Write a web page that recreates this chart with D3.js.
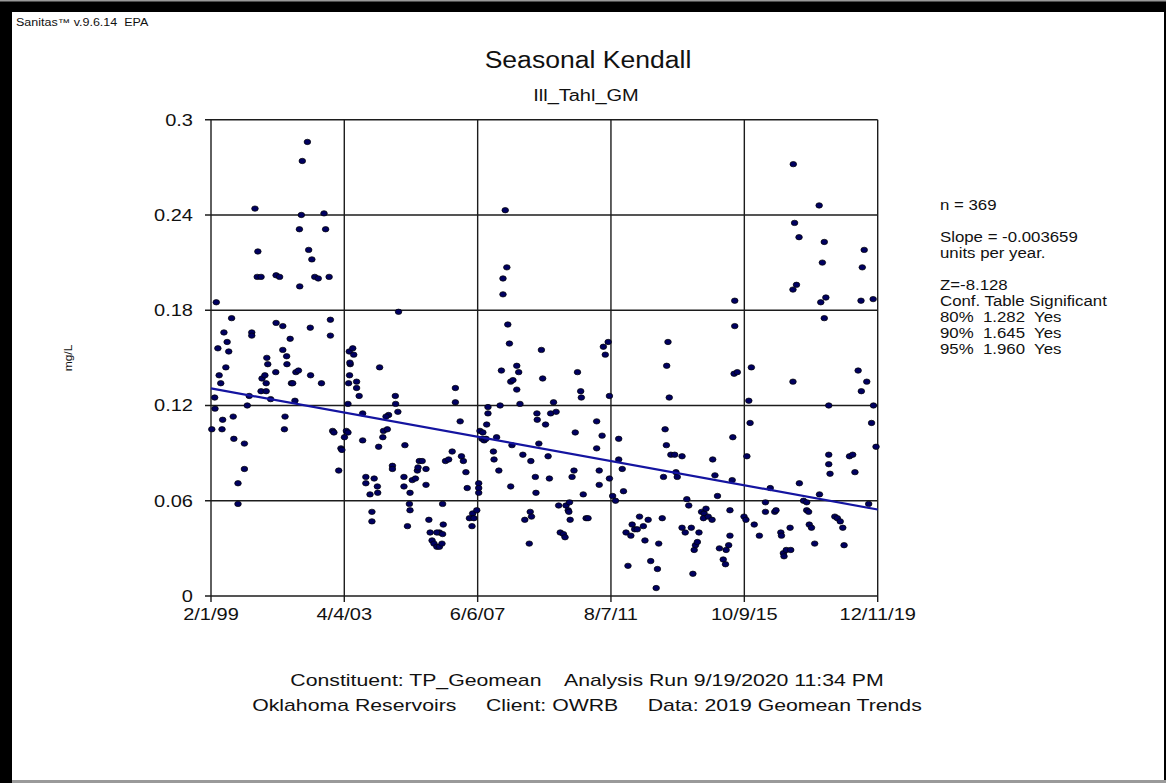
<!DOCTYPE html>
<html>
<head>
<meta charset="utf-8">
<script src="https://cdn.jsdelivr.net/npm/d3@7"></script>
<style>
body { margin: 0; background: #000; }
svg { display: block; font-family: "Liberation Sans", Arial, sans-serif; }
text { white-space: pre; fill: #111; }
</style>
</head>
<body>
<svg id="chart" width="1166" height="783"></svg>
<script>
// sample dates as decimal years, TP geomean in mg/L
var sampleYears = [
  1999.11, 1999.20, 1999.21, 1999.25, 1999.30, 1999.34, 1999.39, 1999.45, 1999.43, 1999.49,
  1999.55, 1999.59, 1999.64, 1999.73, 1999.78, 1999.80, 1999.93, 1999.93, 2000.13, 2000.13,
  2000.22, 2000.28, 2000.36, 2000.36, 2000.46, 2000.55, 2000.53, 2000.65, 2000.65, 2000.68,
  2000.77, 2000.81, 2000.81, 2000.83, 2000.86, 2000.95, 2001.11, 2001.12, 2001.23, 2001.12,
  2001.33, 2001.33, 2001.45, 2001.46, 2001.40, 2001.38, 2001.56, 2001.60, 2001.64, 2001.74,
  2001.82, 2001.71, 2001.85, 2001.86, 2001.91, 2001.94, 2002.10, 2002.14, 2002.19, 2002.20,
  2002.24, 2002.33, 2002.44, 2002.54, 2002.62, 2002.67, 2002.78, 2002.82, 2002.82, 2002.89,
  2002.93, 2003.08, 2003.15, 2003.18, 2003.26,
  2003.32, 2003.37, 2003.37, 2003.39, 2003.42, 2003.44, 2003.43, 2003.41, 2003.52, 2003.55,
  2003.64, 2003.64, 2003.72, 2003.83, 2003.83, 2003.93, 2003.93, 2004.06, 2004.12, 2004.12,
  2004.19, 2004.29, 2004.30, 2004.36, 2004.33, 2004.46, 2004.48, 2004.60, 2004.64, 2004.56,
  2004.76, 2004.76, 2004.85, 2004.86, 2004.93, 2004.95, 2005.15, 2005.12, 2005.12, 2005.31,
  2005.29, 2005.31, 2005.23, 2005.38, 2005.48, 2005.54, 2005.56, 2005.60, 2005.69, 2005.81,
  2005.81, 2005.90, 2005.94, 2006.00, 2006.06, 2006.15, 2006.23, 2006.31, 2006.23, 2006.15,
  2006.33, 2006.33, 2006.35, 2006.42, 2006.52, 2006.63, 2006.73, 2006.73, 2006.88, 2006.92,
  2006.98, 2007.06, 2007.10, 2007.17, 2007.25, 2007.27, 2007.31, 2007.40, 2007.46, 2007.46,
  2007.46,
  2007.50, 2007.59, 2007.56, 2007.63, 2007.69, 2007.71, 2007.75, 2007.75, 2007.92, 2007.94,
  2008.09, 2008.02, 2008.13, 2008.17, 2008.22, 2008.22, 2008.29, 2008.34, 2008.37, 2008.42,
  2008.46, 2008.53, 2008.50, 2008.46, 2008.65, 2008.71, 2008.65, 2008.75, 2008.84, 2008.90,
  2009.04, 2009.07, 2009.11, 2009.09, 2009.23, 2009.25, 2009.28, 2009.29, 2009.34, 2009.42,
  2009.46, 2009.55, 2009.63, 2009.67, 2009.71, 2009.80, 2009.88, 2009.96, 2010.01, 2010.11,
  2010.16, 2010.19, 2010.26, 2010.30, 2010.32, 2010.28, 2010.38, 2010.44, 2010.48, 2010.55,
  2010.65, 2010.67, 2010.73, 2010.82, 2010.88, 2011.15, 2011.15, 2011.23, 2011.23, 2011.32,
  2011.36, 2011.42, 2011.51, 2011.55, 2011.55, 2011.65, 2011.74,
  2011.84, 2011.84, 2011.95, 2011.99, 2012.07, 2012.13, 2012.22, 2012.26, 2012.34, 2012.42,
  2012.49, 2012.61, 2012.76, 2012.66, 2012.84, 2013.05, 2013.01, 2013.09, 2013.20, 2013.24,
  2013.29, 2013.33, 2013.34, 2013.38, 2013.42, 2013.47, 2013.59, 2013.63, 2013.67, 2013.82,
  2013.82, 2013.92, 2013.97, 2014.03, 2014.11, 2014.16, 2014.20, 2014.24, 2014.30, 2014.35,
  2014.43, 2014.51, 2014.57, 2014.49, 2014.64, 2014.76, 2014.78, 2014.85, 2014.93, 2014.99,
  2015.11, 2015.18, 2015.20, 2015.28, 2015.32, 2015.32, 2015.39, 2015.41, 2015.45, 2015.47,
  2015.47, 2015.55, 2015.76, 2015.82,
  2015.85, 2015.91, 2015.95, 2015.99, 2016.08, 2016.24, 2016.43, 2016.43, 2016.58, 2016.72,
  2016.76, 2016.91, 2016.93, 2016.99, 2017.01, 2017.08, 2017.22, 2017.20, 2017.29, 2017.30,
  2017.34, 2017.40, 2017.29, 2017.48, 2017.49, 2017.62, 2017.72, 2017.72, 2017.78, 2017.80,
  2017.87, 2017.97, 2018.12, 2018.11, 2018.21, 2018.27, 2018.32, 2018.16, 2018.27, 2018.41,
  2018.41, 2018.41, 2018.45, 2018.60, 2018.68, 2018.77, 2018.85, 2018.89, 2019.06, 2019.16,
  2019.23, 2019.33, 2019.43, 2019.60, 2019.42, 2019.52, 2019.46, 2019.66, 2019.75, 2019.81,
  2019.80, 2019.89
];
var tpValues = [
  0.105, 0.125, 0.118, 0.185, 0.156, 0.139, 0.134, 0.111, 0.105, 0.166,
  0.144, 0.160, 0.154, 0.175, 0.113, 0.099, 0.071, 0.058, 0.096, 0.080,
  0.120, 0.126, 0.166, 0.164, 0.244, 0.217, 0.201, 0.201, 0.129, 0.137,
  0.139, 0.134, 0.129, 0.150, 0.146, 0.124, 0.141, 0.202, 0.201, 0.172,
  0.170, 0.155, 0.151, 0.146, 0.113, 0.105, 0.162, 0.134, 0.134, 0.141,
  0.142, 0.123, 0.231, 0.195, 0.240, 0.274, 0.286, 0.218, 0.169, 0.139,
  0.212, 0.201, 0.200, 0.134, 0.241, 0.231, 0.201, 0.174, 0.164, 0.104,
  0.103, 0.079, 0.093, 0.092, 0.100,
  0.104, 0.103, 0.121, 0.134, 0.139, 0.146, 0.147, 0.154, 0.156, 0.152,
  0.135, 0.131, 0.126, 0.115, 0.098, 0.075, 0.071, 0.064, 0.053, 0.047,
  0.074, 0.069, 0.065, 0.144, 0.094, 0.100, 0.104, 0.105, 0.114, 0.113,
  0.082, 0.080, 0.126, 0.121, 0.116, 0.179, 0.095, 0.075, 0.069, 0.065,
  0.058, 0.054, 0.044, 0.073, 0.074, 0.079, 0.081, 0.085, 0.085, 0.080,
  0.070, 0.048, 0.040, 0.035, 0.033, 0.031, 0.031, 0.033, 0.040, 0.040,
  0.039, 0.058, 0.045, 0.085, 0.086, 0.091, 0.131, 0.122, 0.110, 0.088,
  0.085, 0.078, 0.068, 0.049, 0.044, 0.052, 0.049, 0.054, 0.071, 0.068,
  0.065,
  0.104, 0.103, 0.099, 0.098, 0.099, 0.108, 0.115, 0.119, 0.091, 0.086,
  0.079, 0.100, 0.120, 0.142, 0.200, 0.190, 0.243, 0.207, 0.171, 0.159,
  0.135, 0.136, 0.095, 0.069, 0.145, 0.141, 0.130, 0.121, 0.089, 0.048,
  0.033, 0.053, 0.050, 0.085, 0.075, 0.065, 0.115, 0.111, 0.096, 0.155,
  0.137, 0.108, 0.088, 0.074, 0.115, 0.122, 0.116, 0.057, 0.040, 0.039,
  0.037, 0.057, 0.054, 0.059, 0.048, 0.053, 0.075, 0.079, 0.103, 0.141,
  0.129, 0.125, 0.064, 0.049, 0.049, 0.110, 0.093, 0.079, 0.070, 0.101,
  0.157, 0.152, 0.160, 0.126, 0.074, 0.063, 0.060,
  0.099, 0.086, 0.080, 0.066, 0.040, 0.019, 0.038, 0.045, 0.042, 0.042,
  0.050, 0.044, 0.048, 0.035, 0.022, 0.017, 0.005, 0.033, 0.049, 0.075,
  0.105, 0.095, 0.145, 0.160, 0.125, 0.089, 0.089, 0.078, 0.075, 0.088,
  0.043, 0.040, 0.061, 0.057, 0.043, 0.014, 0.029, 0.032, 0.034, 0.040,
  0.053, 0.052, 0.055, 0.049, 0.050, 0.048, 0.086, 0.076, 0.063, 0.030,
  0.023, 0.020, 0.029, 0.032, 0.038, 0.054, 0.073, 0.100, 0.140, 0.186,
  0.170, 0.141, 0.050, 0.048,
  0.088, 0.123, 0.109, 0.144, 0.045, 0.038, 0.059, 0.053, 0.068, 0.053,
  0.054, 0.040, 0.038, 0.027, 0.025, 0.029, 0.029, 0.043, 0.135, 0.272,
  0.235, 0.196, 0.193, 0.226, 0.071, 0.060, 0.059, 0.054, 0.053, 0.045,
  0.043, 0.033, 0.064, 0.246, 0.210, 0.223, 0.188, 0.185, 0.175, 0.120,
  0.089, 0.083, 0.077, 0.050, 0.049, 0.047, 0.043, 0.032, 0.088, 0.089,
  0.078, 0.142, 0.129, 0.135, 0.186, 0.218, 0.207, 0.058, 0.109, 0.120,
  0.187, 0.094
];

var xTickLabels = ["2/1/99", "4/4/03", "6/6/07", "8/7/11", "10/9/15", "12/11/19"];
var yTicks = [0, 0.06, 0.12, 0.18, 0.24, 0.3];
var yTickLabels = ["0", "0.06", "0.12", "0.18", "0.24", "0.3"];

var trendStartValue = 0.1308;   // Sen line value at 2/1/99
var trendSlope = -0.003659;     // units per year

var statsLines = ["n = 369", "", "Slope = -0.003659", "units per year.", "",
  "Z=-8.128", "Conf. Table Significant", "80%  1.282  Yes", "90%  1.645  Yes", "95%  1.960  Yes"];
var footerLines = ["Constituent: TP_Geomean    Analysis Run 9/19/2020 11:34 PM",
  "Oklahoma Reservoirs     Client: OWRB     Data: 2019 Geomean Trends"];

var svg, x, y;
var parseTick = d3.timeParse("%m/%d/%y");
var formatTick = d3.timeFormat("%-m/%-d/%y");

// decimal year -> Date
var yearToDate = function(t) {
    var yr = Math.floor(t);
    var a = new Date(yr, 0, 1), b = new Date(yr + 1, 0, 1);
    return new Date(+a + (t - yr) * (b - a));
};

// the source render is stretched sideways, so widen glyphs a bit
var stretch = function(sel, f) {
    sel.each(function() {
	var w = this.getComputedTextLength();
	d3.select(this).attr("textLength", w * f).attr("lengthAdjust", "spacingAndGlyphs");
    });
    return sel;
};

var drawFrame = function() {
    svg.append("rect").attr("x", 0).attr("y", 0).attr("width", 1166).attr("height", 783).attr("fill", "#000");
    svg.append("rect").attr("x", 0).attr("y", 0).attr("width", 1166).attr("height", 1.5).attr("fill", "#999");
    svg.append("rect").attr("x", 12).attr("y", 12).attr("width", 1152).attr("height", 768).attr("fill", "#fff");
    svg.append("rect").attr("x", 12).attr("y", 780).attr("width", 1154).attr("height", 3).attr("fill", "#9a9a9a");

    stretch(svg.append("text").attr("x", 16).attr("y", 26).attr("font-size", 10)
	    .text("Sanitas\u2122 v.9.6.14  EPA"), 1.25);
};

var drawAxes = function() {
    var g = svg.append("g");
    var tickDates = xTickLabels.map(parseTick);

    // grid
    g.selectAll("line.hgrid").data(yTicks).enter().append("line")
	.attr("x1", x.range()[0] - 6).attr("x2", x.range()[1])
	.attr("y1", function(d) { return y(d); }).attr("y2", function(d) { return y(d); })
	.attr("stroke", "#1c1c1c").attr("stroke-width", 1.4);
    g.selectAll("line.vgrid").data(tickDates).enter().append("line")
	.attr("x1", function(d) { return x(d); }).attr("x2", function(d) { return x(d); })
	.attr("y1", y.range()[1]).attr("y2", y.range()[0] + 6)
	.attr("stroke", "#1c1c1c").attr("stroke-width", 1.4);

    stretch(g.selectAll("text.ylab").data(yTicks).enter().append("text")
	.attr("x", x.range()[0] - 18).attr("y", function(d) { return y(d) + 6; })
	.attr("text-anchor", "end").attr("font-size", 16)
	.text(function(d, i) { return yTickLabels[i]; }), 1.25);

    stretch(g.selectAll("text.xlab").data(tickDates).enter().append("text")
	.attr("x", function(d) { return x(d); }).attr("y", y.range()[0] + 24)
	.attr("text-anchor", "middle").attr("font-size", 16)
	.text(function(d) { return formatTick(d); }), 1.25);

    stretch(svg.append("text").attr("transform", "translate(72,358) rotate(-90)")
	.attr("text-anchor", "middle").attr("font-size", 10).text("mg/L"), 1.2);
};

var drawData = function() {
    var pts = sampleYears.map(function(t, i) { return [yearToDate(t), tpValues[i]]; });
    svg.append("g").selectAll("ellipse").data(pts).enter().append("ellipse")
	.attr("cx", function(d) { return x(d[0]); })
	.attr("cy", function(d) { return y(d[1]); })
	.attr("rx", 3.3).attr("ry", 2.7)
	.attr("fill", "#000060").attr("stroke", "#000").attr("stroke-width", 0.7);

    var d0 = x.domain()[0], d1 = x.domain()[1];
    var span = (d1 - d0) / (365.25 * 864e5);
    var trend = [[d0, trendStartValue], [d1, trendStartValue + trendSlope * span]];
    svg.append("path").datum(trend)
	.attr("d", d3.line().x(function(d) { return x(d[0]); }).y(function(d) { return y(d[1]); }))
	.attr("fill", "none").attr("stroke", "#1414a0").attr("stroke-width", 2.2);
};

var drawText = function() {
    stretch(svg.append("text").attr("x", 588).attr("y", 68).attr("text-anchor", "middle")
	.attr("font-size", 23.5).text("Seasonal Kendall"), 1.13);
    stretch(svg.append("text").attr("x", 586).attr("y", 101).attr("text-anchor", "middle")
	.attr("font-size", 16).text("Ill_Tahl_GM"), 1.25);

    stretch(svg.append("g").selectAll("text").data(statsLines).enter().append("text")
	.attr("x", 940).attr("y", function(d, i) { return 210 + i * 16; })
	.attr("font-size", 14).text(function(d) { return d; }), 1.2);

    stretch(svg.append("g").selectAll("text").data(footerLines).enter().append("text")
	.attr("x", 587).attr("y", function(d, i) { return 686 + i * 25; })
	.attr("text-anchor", "middle").attr("font-size", 17).text(function(d) { return d; }), 1.25);
};

var setup = function() {
    svg = d3.select("#chart");
    var tickDates = xTickLabels.map(parseTick);
    x = d3.scaleTime().domain([tickDates[0], tickDates[tickDates.length - 1]]).range([211, 877.7]);
    y = d3.scaleLinear().domain([0, 0.3]).range([596, 119.7]);
    drawFrame();
    drawAxes();
    drawData();
    drawText();
};

window.onload = setup;
</script>
</body>
</html>
